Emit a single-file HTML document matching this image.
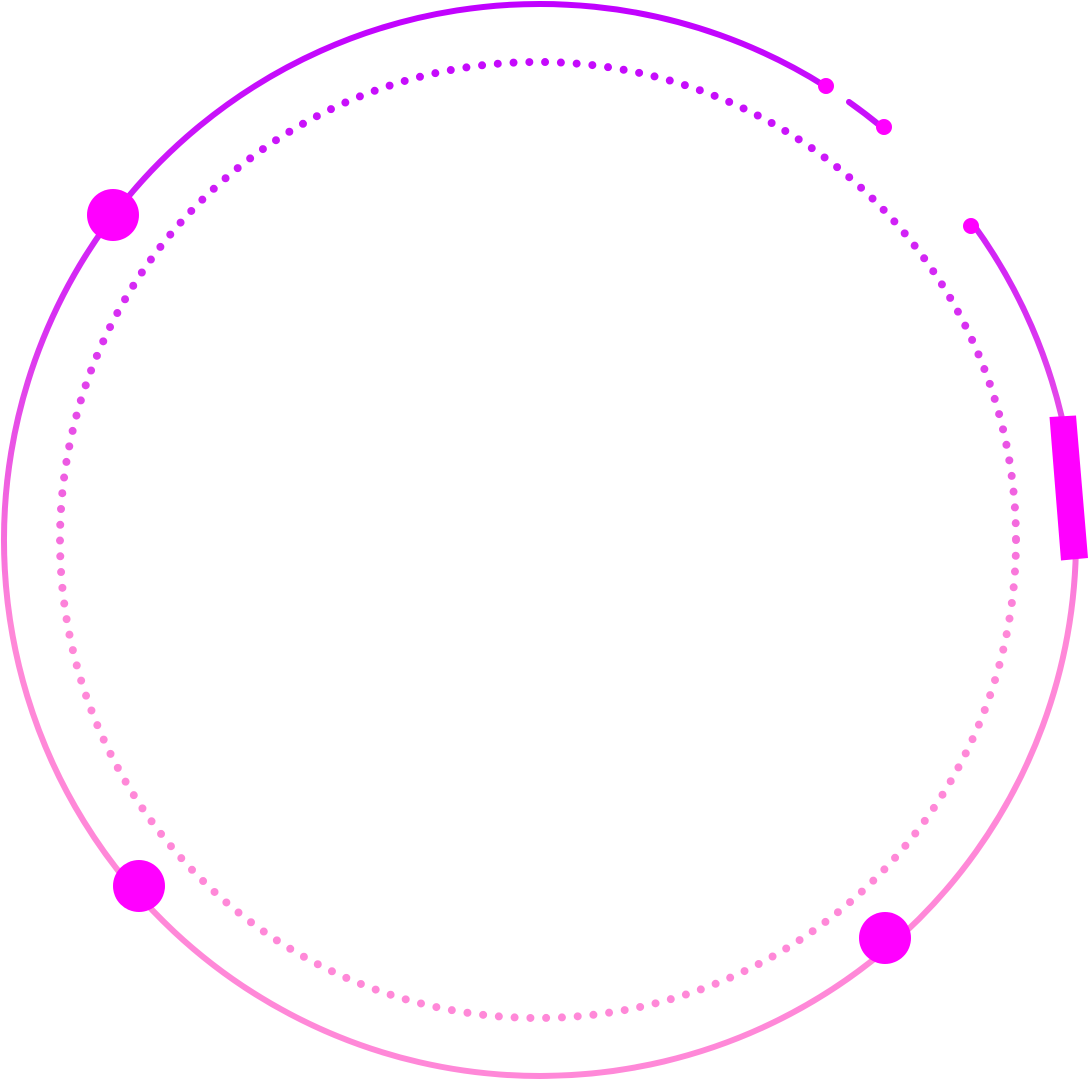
<!DOCTYPE html>
<html><head><style>html,body{margin:0;padding:0;background:#fff;}svg{display:block}</style></head>
<body>
<svg width="1088" height="1080" viewBox="0 0 1088 1080" xmlns="http://www.w3.org/2000/svg">
<defs>
<linearGradient id="g" gradientUnits="userSpaceOnUse" x1="0" y1="0" x2="0" y2="1080">
<stop offset="0" stop-color="#c000ff"/>
<stop offset="0.3" stop-color="#d830f2"/>
<stop offset="0.45" stop-color="#f060e0"/>
<stop offset="0.58" stop-color="#ff88d8"/>
<stop offset="1" stop-color="#ff88d8"/>
</linearGradient>
</defs>
<circle cx="538" cy="540" r="478" fill="none" stroke="url(#g)" stroke-width="8" stroke-linecap="round" stroke-dasharray="0 15.8"/>
<path d="M973.1,224.2 A536,536 0 1 1 825.6,86.4" fill="none" stroke="url(#g)" stroke-width="6"/>
<path d="M849,102 A536,536 0 0 1 883.1,128.2" fill="none" stroke="url(#g)" stroke-width="6" stroke-linecap="round"/>
<g fill="#ff00ff">
<circle cx="826" cy="86" r="8"/>
<circle cx="884" cy="127" r="8"/>
<circle cx="971" cy="226" r="8"/>
<circle cx="113" cy="215" r="26"/>
<circle cx="139" cy="886" r="26"/>
<circle cx="885" cy="938" r="26"/>
<polygon points="1049.5,417 1076,415.5 1088,558 1061,560.5"/>
</g>
</svg>
</body></html>
